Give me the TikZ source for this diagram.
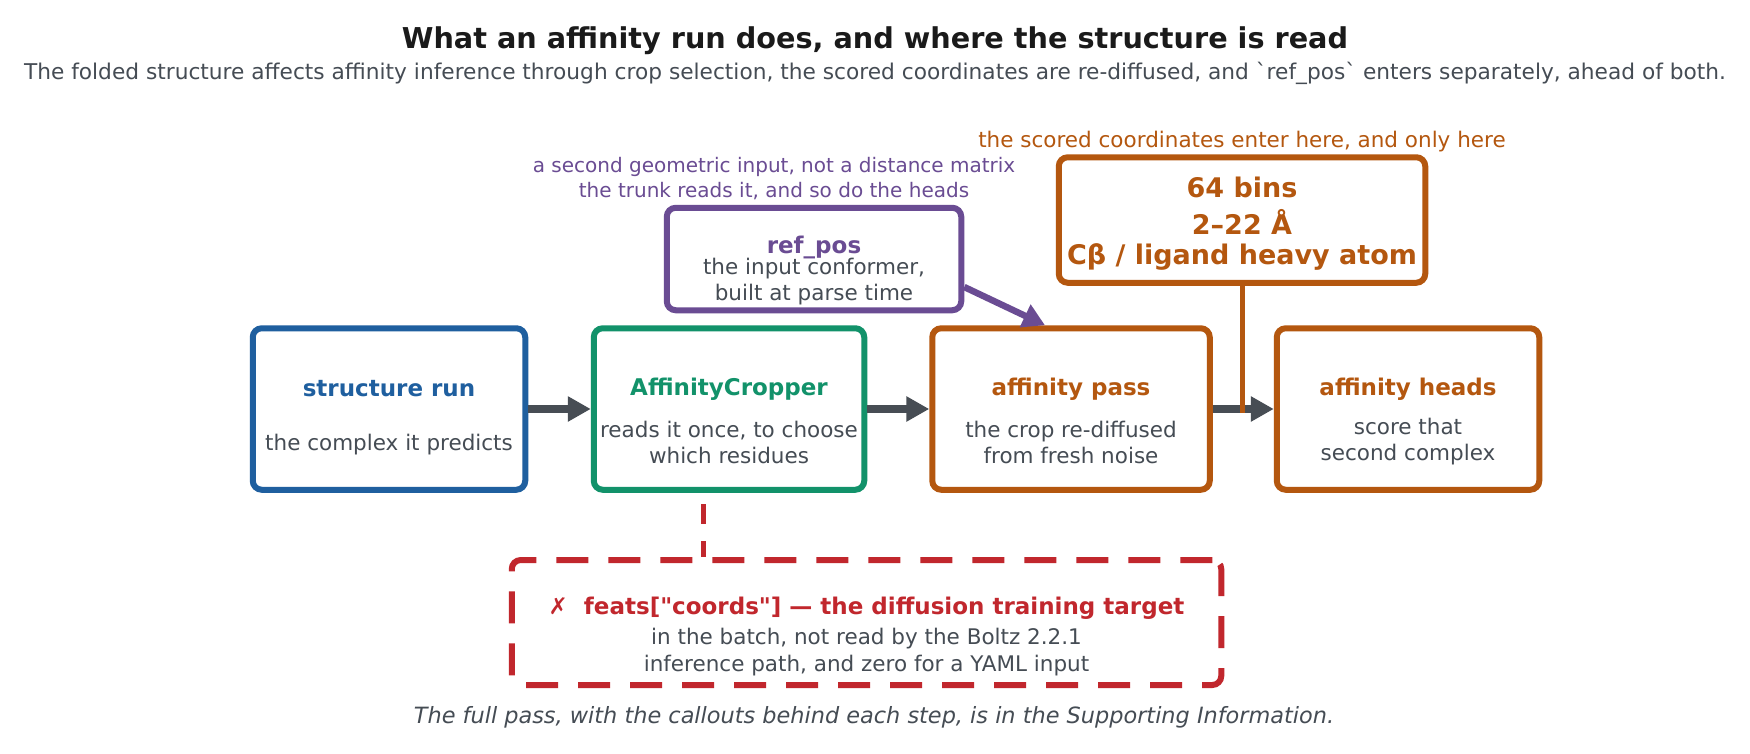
\documentclass[tikz,border=0pt]{standalone}
\usepackage{fontspec}
\newfontfamily\dv{DejaVu Sans}
\usetikzlibrary{arrows.meta}
\definecolor{cblue}{HTML}{1F5F9F}
\definecolor{cgreen}{HTML}{12926A}
\definecolor{corange}{HTML}{B4570F}
\definecolor{cpurple}{HTML}{6A4C93}
\definecolor{cred}{HTML}{C1272D}
\definecolor{ctext}{HTML}{454C54}
\definecolor{carrow}{HTML}{474D54}
\definecolor{ctitle}{HTML}{1A1A1A}
\begin{document}
\begin{tikzpicture}[x=1pt,y=-1pt,
  boxst/.style={draw, line width=6pt, rounded corners=9pt, fill=white, inner sep=0pt},
  txt/.style={inner sep=0pt, text=ctext, font=\dv\fontsize{21.5}{26}\selectfont},
  ttl/.style={inner sep=0pt, font=\dv\fontsize{23}{28}\selectfont\bfseries},
  binstxt/.style={inner sep=0pt, anchor=base, text=corange, font=\dv\fontsize{27}{33}\selectfont\bfseries},
  flow/.style={draw=carrow, line width=8pt, -{Triangle[length=23pt,width=24pt]}},
]
\useasboundingbox (0,0) rectangle (1750,753);
\fill[white] (0,0) rectangle (1750,753);

% title
\node[inner sep=0pt, text=ctitle, font=\dv\fontsize{28.7}{34}\selectfont\bfseries] (title) at (875,41) {What an affinity run does, and where the structure is read};
\node[txt, font=\dv\fontsize{21.7}{26}\selectfont] (subtitle) at (875,73.5) {The folded structure affects affinity inference through crop selection, the scored coordinates are re-diffused, and `ref\_pos` enters separately, ahead of both.};

% main boxes
\node[boxst, draw=cblue, minimum width=272.5pt, minimum height=161.5pt] (sr) at (389,409) {};
\node[boxst, draw=cgreen, minimum width=270.5pt, minimum height=161.5pt] (cr) at (729,409) {};
\node[boxst, draw=corange, minimum width=277.5pt, minimum height=161.5pt] (ap) at (1071,409) {};
\node[boxst, draw=corange, minimum width=262.5pt, minimum height=161.5pt] (ah) at (1408,409) {};

\node[ttl, text=cblue] (srt) at (389,389) {structure run};
\node[txt] (srb) at (389,445) {the complex it predicts};
\node[ttl, text=cgreen] (crt) at (729,389) {AffinityCropper};
\node[txt, align=center] (crb) at (729,442) {reads it once, to choose\\which residues};
\node[ttl, text=corange] (apt) at (1071,389) {affinity pass};
\node[txt, align=center] (apb) at (1071,442) {the crop re-diffused\\from fresh noise};
\node[ttl, text=corange] (aht) at (1408,389) {affinity heads};
\node[txt, align=center] (ahb) at (1408,442) {score that\\second complex};

% ref_pos box
\node[boxst, draw=cpurple, minimum width=294.5pt, minimum height=102.5pt] (rp) at (814,259) {};
\node[ttl, text=cpurple] (rpt) at (814,247.5) {ref\_pos};
\node[txt, align=center, font=\dv\fontsize{21.5}{25.7}\selectfont] (rpb) at (814,281.5) {the input conformer,\\built at parse time};
\node[inner sep=0pt, text=cpurple, align=center, font=\dv\fontsize{20}{25}\selectfont] (rpl) at (774,178.5) {a second geometric input, not a distance matrix\\the trunk reads it, and so do the heads};

% bins box
\node[boxst, draw=corange, minimum width=366.5pt, minimum height=125.5pt] (bins) at (1242,220) {};
\node[binstxt] (bins1) at (1242,197.3) {64 bins};
\node[binstxt] (bins2) at (1242,234.7) {2–22 Å};
\node[binstxt] (bins3) at (1242,264.4) {Cβ / ligand heavy atom};
\node[inner sep=0pt, text=corange, font=\dv\fontsize{21.5}{26}\selectfont] (binsl) at (1242,141.5) {the scored coordinates enter here, and only here};

% dashed box
\node[boxst, draw=cred, dash pattern=on 32pt off 20pt, minimum width=709.5pt, minimum height=125pt] (fb) at (866.5,622.5) {};
\node[inner sep=0pt, text=cred, font=\dv\fontsize{23}{28}\selectfont\bfseries] (fbt) at (866.5,608.5) {✗\ \ feats["coords"] — the diffusion training target};
\node[txt, align=center, font=\dv\fontsize{21.5}{27}\selectfont] (fbb) at (866.5,652) {in the batch, not read by the Boltz 2.2.1\\inference path, and zero for a YAML input};

% footer
\node[inner sep=0pt, text=ctext, font=\dv\fontsize{22.4}{27}\selectfont\itshape] (foot) at (874,717) {The full pass, with the callouts behind each step, is in the Supporting Information.};

% connectors
\draw[flow] (sr.east) -- (cr.west);
\draw[flow] (cr.east) -- (ap.west);
\draw[flow] (ap.east) -- (ah.west);
\draw[draw=corange, line width=5pt] (bins.south) -- ([yshift=-4pt]bins.south |- ap.east);
\draw[draw=cpurple, line width=6.5pt, -{Triangle[length=22pt,width=24pt]}] ([yshift=-28pt]rp.east) -- ([xshift=-26pt]ap.north);
\coordinate (cf) at (703,504);
\draw[draw=cred, line width=5pt, dash pattern=on 20pt off 17pt] (cf) -- (cf |- fb.north);
\end{tikzpicture}
\end{document}
